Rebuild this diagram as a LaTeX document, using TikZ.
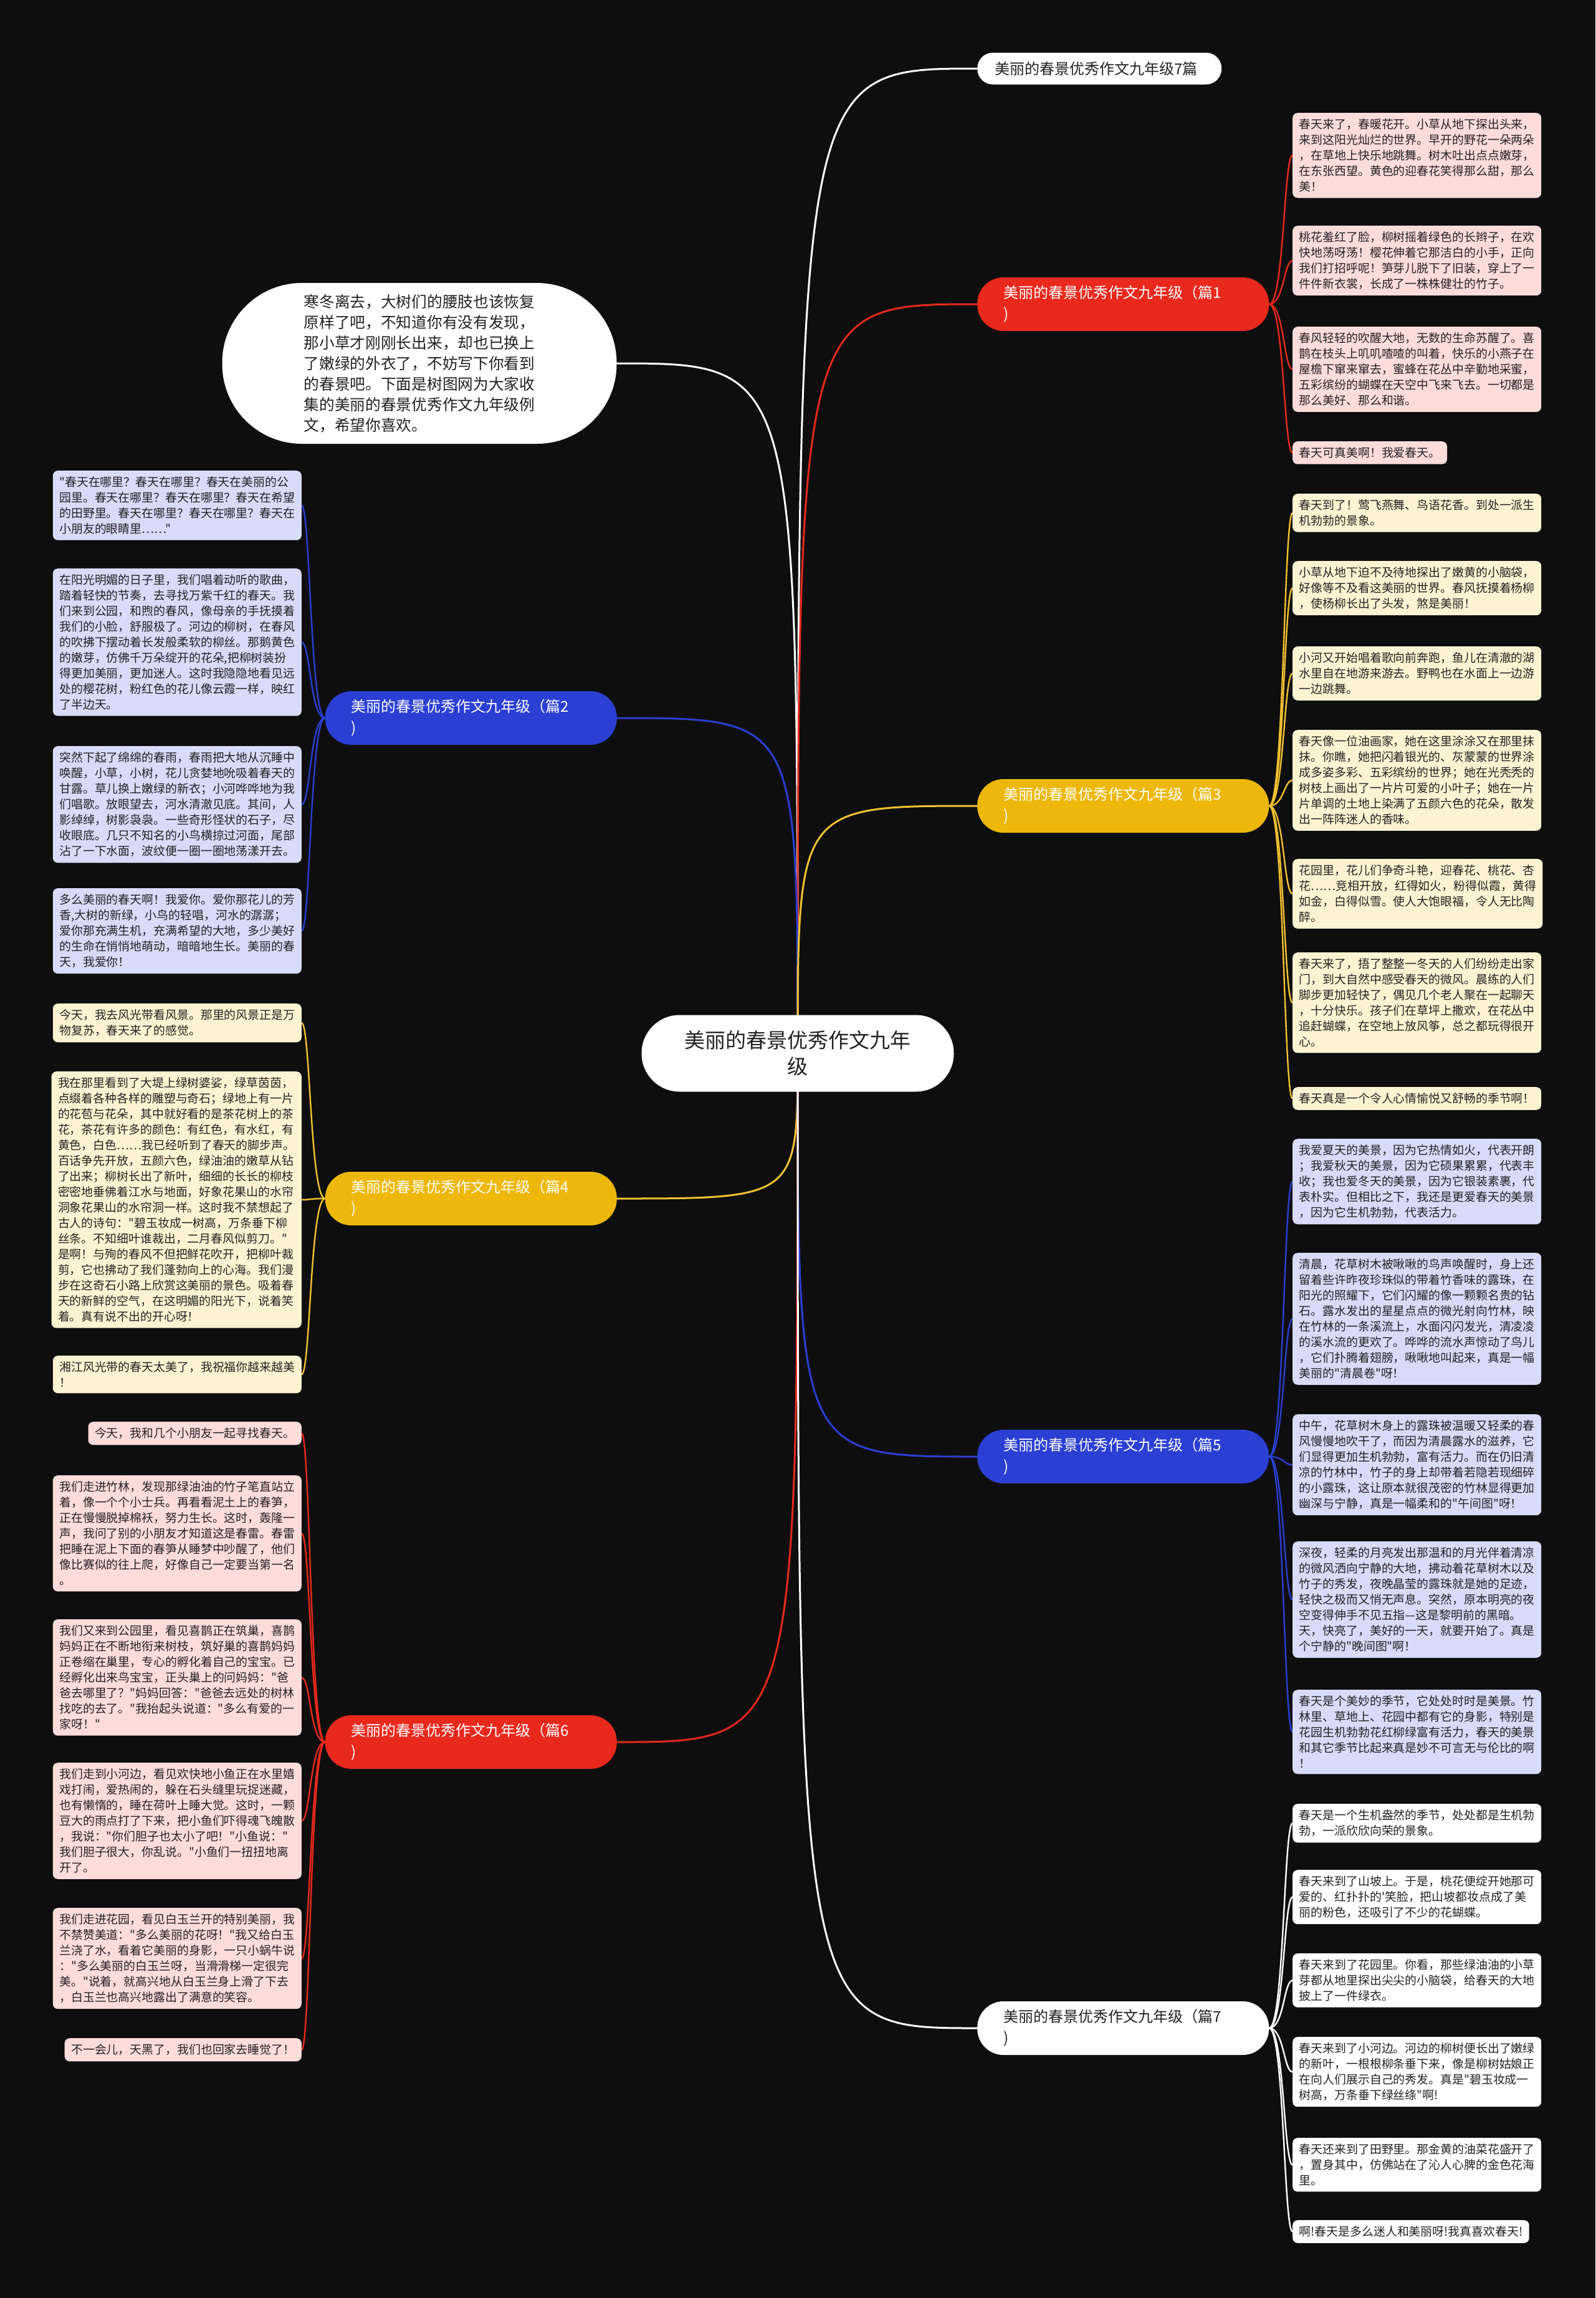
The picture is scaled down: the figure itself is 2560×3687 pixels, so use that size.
\documentclass[tikz,border=0pt]{standalone}
\usepackage{fontspec}
\usepackage{xcolor}
\usetikzlibrary{backgrounds}
\newfontfamily\cjk{Noto Sans CJK SC}

\definecolor{bgc}{HTML}{0E0E0E}
\definecolor{redc}{HTML}{E8291C}
\definecolor{redleaf}{HTML}{FDDCDA}
\definecolor{yelc}{HTML}{EDB80B}
\definecolor{yelline}{HTML}{F2C232}
\definecolor{yelleaf}{HTML}{FDF3D2}
\definecolor{bluec}{HTML}{2B3FD4}
\definecolor{blueleaf}{HTML}{D8DBF9}
\definecolor{txt}{HTML}{222222}

\begin{document}
\begin{tikzpicture}[
    x=1pt, y=-1pt,
    root/.style={fill=white, rounded corners=61pt, minimum width=501pt, minimum height=123pt, align=center, text=txt, font=\cjk\fontsize{33}{42}\selectfont},
    intro/.style={fill=white, rounded corners=128pt, minimum width=633pt, minimum height=258pt, align=left, text=txt, font=\cjk\fontsize{24.7}{33}\selectfont},
    branch/.style={anchor=west, rounded corners=42pt, minimum height=86pt, text width=384pt, inner xsep=42pt, align=left, text=white, font=\cjk\fontsize{24}{34}\selectfont},
    branchL/.style={branch, anchor=east},
    leaf/.style={rounded corners=8pt, inner xsep=10.5pt, inner ysep=9.5pt, align=left, text=txt, font=\cjk\fontsize{18.9}{25}\selectfont},
    leafR/.style={leaf, anchor=north west},
    leafL/.style={leaf, anchor=north east},
    link/.style={line width=3pt},
    twig/.style={line width=2.4pt}
]
    \useasboundingbox (0,0) rectangle (2560,3687);

    % centre and intro
    \node[root] (root) at (1280,1690) {美丽的春景优秀作文九年\\级};
    \node[intro] (intro) at (673,583) {寒冬离去，大树们的腰肢也该恢复\\原样了吧，不知道你有没有发现，\\那小草才刚刚长出来，却也已换上\\了嫩绿的外衣了，不妨写下你看到\\的春景吧。下面是树图网为大家收\\集的美丽的春景优秀作文九年级例\\文，希望你喜欢。};

    % branches
    \node[branch, fill=white, text=txt, text width=336pt, inner xsep=28pt, minimum height=51pt, rounded corners=25pt] (b0) at (1568,110) {美丽的春景优秀作文九年级7篇};
    \node[branch, fill=redc] (b1) at (1568,488) {美丽的春景优秀作文九年级（篇1\\)};
    \node[branchL, fill=bluec] (b2) at (990,1152) {美丽的春景优秀作文九年级（篇2\\)};
    \node[branch, fill=yelc] (b3) at (1568,1293) {美丽的春景优秀作文九年级（篇3\\)};
    \node[branchL, fill=yelc] (b4) at (990,1923) {美丽的春景优秀作文九年级（篇4\\)};
    \node[branch, fill=bluec] (b5) at (1568,2337) {美丽的春景优秀作文九年级（篇5\\)};
    \node[branchL, fill=redc] (b6) at (990,2795) {美丽的春景优秀作文九年级（篇6\\)};
    \node[branch, fill=white, text=txt] (b7) at (1568,3254) {美丽的春景优秀作文九年级（篇7\\)};

    % 篇1
    \node[leafR, fill=redleaf] (r1a) at (2074,181) {春天来了，春暖花开。小草从地下探出头来，\\来到这阳光灿烂的世界。早开的野花一朵两朵\\，在草地上快乐地跳舞。树木吐出点点嫩芽，\\在东张西望。黄色的迎春花笑得那么甜，那么\\美！};
    \node[leafR, fill=redleaf] (r1b) at (2074,362) {桃花羞红了脸，柳树摇着绿色的长辫子，在欢\\快地荡呀荡！樱花伸着它那洁白的小手，正向\\我们打招呼呢！笋芽儿脱下了旧装，穿上了一\\件件新衣裳，长成了一株株健壮的竹子。};
    \node[leafR, fill=redleaf] (r1c) at (2074,524) {春风轻轻的吹醒大地，无数的生命苏醒了。喜\\鹊在枝头上叽叽喳喳的叫着，快乐的小燕子在\\屋檐下窜来窜去，蜜蜂在花丛中辛勤地采蜜，\\五彩缤纷的蝴蝶在天空中飞来飞去。一切都是\\那么美好、那么和谐。};
    \node[leafR, fill=redleaf] (r1d) at (2074,708) {春天可真美啊！我爱春天。};

    % 篇3
    \node[leafR, fill=yelleaf] (r3a) at (2074,792) {春天到了！莺飞燕舞、鸟语花香。到处一派生\\机勃勃的景象。};
    \node[leafR, fill=yelleaf] (r3b) at (2074,900) {小草从地下迫不及待地探出了嫩黄的小脑袋，\\好像等不及看这美丽的世界。春风抚摸着杨柳\\，使杨柳长出了头发，煞是美丽！};
    \node[leafR, fill=yelleaf] (r3c) at (2074,1037) {小河又开始唱着歌向前奔跑，鱼儿在清澈的湖\\水里自在地游来游去。野鸭也在水面上一边游\\一边跳舞。};
    \node[leafR, fill=yelleaf] (r3d) at (2074,1171) {春天像一位油画家，她在这里涂涂又在那里抹\\抹。你瞧，她把闪着银光的、灰蒙蒙的世界涂\\成多姿多彩、五彩缤纷的世界；她在光秃秃的\\树枝上画出了一片片可爱的小叶子；她在一片\\片单调的土地上染满了五颜六色的花朵，散发\\出一阵阵迷人的香味。};
    \node[leafR, fill=yelleaf] (r3e) at (2074,1378) {花园里，花儿们争奇斗艳，迎春花、桃花、杏\\花……竞相开放，红得如火，粉得似霞，黄得\\如金，白得似雪。使人大饱眼福，令人无比陶\\醉。};
    \node[leafR, fill=yelleaf] (r3f) at (2074,1528) {春天来了，捂了整整一冬天的人们纷纷走出家\\门，到大自然中感受春天的微风。晨练的人们\\脚步更加轻快了，偶见几个老人聚在一起聊天\\，十分快乐。孩子们在草坪上撒欢，在花丛中\\追赶蝴蝶，在空地上放风筝，总之都玩得很开\\心。};
    \node[leafR, fill=yelleaf] (r3g) at (2074,1744) {春天真是一个令人心情愉悦又舒畅的季节啊！};

    % 篇5
    \node[leafR, fill=blueleaf] (r5a) at (2074,1827) {我爱夏天的美景，因为它热情如火，代表开朗\\；我爱秋天的美景，因为它硕果累累，代表丰\\收；我也爱冬天的美景，因为它银装素裹，代\\表朴实。但相比之下，我还是更爱春天的美景\\，因为它生机勃勃，代表活力。};
    \node[leafR, fill=blueleaf] (r5b) at (2074,2010) {清晨，花草树木被啾啾的鸟声唤醒时，身上还\\留着些许昨夜珍珠似的带着竹香味的露珠，在\\阳光的照耀下，它们闪耀的像一颗颗名贵的钻\\石。露水发出的星星点点的微光射向竹林，映\\在竹林的一条溪流上，水面闪闪发光，清凌凌\\的溪水流的更欢了。哗哗的流水声惊动了鸟儿\\，它们扑腾着翅膀，啾啾地叫起来，真是一幅\\美丽的"清晨卷"呀！};
    \node[leafR, fill=blueleaf] (r5c) at (2074,2269) {中午，花草树木身上的露珠被温暖又轻柔的春\\风慢慢地吹干了，而因为清晨露水的滋养，它\\们显得更加生机勃勃，富有活力。而在仍旧清\\凉的竹林中，竹子的身上却带着若隐若现细碎\\的小露珠，这让原本就很茂密的竹林显得更加\\幽深与宁静，真是一幅柔和的"午间图"呀！};
    \node[leafR, fill=blueleaf] (r5d) at (2074,2473) {深夜，轻柔的月亮发出那温和的月光伴着清凉\\的微风洒向宁静的大地，拂动着花草树木以及\\竹子的秀发，夜晚晶莹的露珠就是她的足迹，\\轻快之极而又悄无声息。突然，原本明亮的夜\\空变得伸手不见五指—这是黎明前的黑暗。\\天，快亮了，美好的一天，就要开始了。真是\\个宁静的"晚间图"啊！};
    \node[leafR, fill=blueleaf] (r5e) at (2074,2711) {春天是个美妙的季节，它处处时时是美景。竹\\林里、草地上、花园中都有它的身影，特别是\\花园生机勃勃花红柳绿富有活力，春天的美景\\和其它季节比起来真是妙不可言无与伦比的啊\\！};

    % 篇7
    \node[leafR, fill=white] (r7a) at (2074,2894) {春天是一个生机盎然的季节，处处都是生机勃\\勃，一派欣欣向荣的景象。};
    \node[leafR, fill=white] (r7b) at (2074,3000) {春天来到了山坡上。于是，桃花便绽开她那可\\爱的、红扑扑的'笑脸，把山坡都妆点成了美\\丽的粉色，还吸引了不少的花蝴蝶。};
    \node[leafR, fill=white] (r7c) at (2074,3134) {春天来到了花园里。你看，那些绿油油的小草\\芽都从地里探出尖尖的小脑袋，给春天的大地\\披上了一件绿衣。};
    \node[leafR, fill=white] (r7d) at (2074,3268) {春天来到了小河边。河边的柳树便长出了嫩绿\\的新叶，一根根柳条垂下来，像是柳树姑娘正\\在向人们展示自己的秀发。真是"碧玉妆成一\\树高，万条垂下绿丝绦"啊!};
    \node[leafR, fill=white] (r7e) at (2074,3430) {春天还来到了田野里。那金黄的油菜花盛开了\\，置身其中，仿佛站在了沁人心脾的金色花海\\里。};
    \node[leafR, fill=white] (r7f) at (2074,3562) {啊!春天是多么迷人和美丽呀!我真喜欢春天!};

    % 篇2
    \node[leafL, fill=blueleaf] (l2a) at (484,755) {"春天在哪里？春天在哪里？春天在美丽的公\\园里。春天在哪里？春天在哪里？春天在希望\\的田野里。春天在哪里？春天在哪里？春天在\\小朋友的眼睛里……"};
    \node[leafL, fill=blueleaf] (l2b) at (484,912) {在阳光明媚的日子里，我们唱着动听的歌曲，\\踏着轻快的节奏，去寻找万紫千红的春天。我\\们来到公园，和煦的春风，像母亲的手抚摸着\\我们的小脸，舒服极了。河边的柳树，在春风\\的吹拂下摆动着长发般柔软的柳丝。那鹅黄色\\的嫩芽，仿佛千万朵绽开的花朵,把柳树装扮\\得更加美丽，更加迷人。这时我隐隐地看见远\\处的樱花树，粉红色的花儿像云霞一样，映红\\了半边天。};
    \node[leafL, fill=blueleaf] (l2c) at (484,1197) {突然下起了绵绵的春雨，春雨把大地从沉睡中\\唤醒，小草，小树，花儿贪婪地吮吸着春天的\\甘露。草儿换上嫩绿的新衣；小河哗哗地为我\\们唱歌。放眼望去，河水清澈见底。其间，人\\影绰绰，树影袅袅。一些奇形怪状的石子，尽\\收眼底。几只不知名的小鸟横掠过河面，尾部\\沾了一下水面，波纹便一圈一圈地荡漾开去。};
    \node[leafL, fill=blueleaf] (l2d) at (484,1425) {多么美丽的春天啊！我爱你。爱你那花儿的芳\\香,大树的新绿，小鸟的轻唱，河水的潺潺；\\爱你那充满生机，充满希望的大地，多少美好\\的生命在悄悄地萌动，暗暗地生长。美丽的春\\天，我爱你！};

    % 篇4
    \node[leafL, fill=yelleaf] (l4a) at (484,1610) {今天，我去风光带看风景。那里的风景正是万\\物复苏，春天来了的感觉。};
    \node[leafL, fill=yelleaf] (l4b) at (484,1719) {我在那里看到了大堤上绿树婆娑，绿草茵茵，\\点缀着各种各样的雕塑与奇石；绿地上有一片\\的花苞与花朵，其中就好看的是茶花树上的茶\\花，茶花有许多的颜色：有红色，有水红，有\\黄色，白色……我已经听到了春天的脚步声。\\百话争先开放，五颜六色，绿油油的嫩草从钻\\了出来；柳树长出了新叶，细细的长长的柳枝\\密密地垂佛着江水与地面，好象花果山的水帘\\洞象花果山的水帘洞一样。这时我不禁想起了\\古人的诗句："碧玉妆成一树高，万条垂下柳\\丝条。不知细叶谁裁出，二月春风似剪刀。"\\是啊！与殉的春风不但把鲜花吹开，把柳叶裁\\剪，它也拂动了我们蓬勃向上的心海。我们漫\\步在这奇石小路上欣赏这美丽的景色。吸着春\\天的新鲜的空气，在这明媚的阳光下，说着笑\\着。真有说不出的开心呀！};
    \node[leafL, fill=yelleaf] (l4c) at (484,2175) {湘江风光带的春天太美了，我祝福你越来越美\\！};

    % 篇6
    \node[leafL, fill=redleaf] (l6a) at (484,2281) {今天，我和几个小朋友一起寻找春天。};
    \node[leafL, fill=redleaf] (l6b) at (484,2367) {我们走进竹林，发现那绿油油的竹子笔直站立\\着，像一个个小士兵。再看看泥土上的春笋，\\正在慢慢脱掉棉袄，努力生长。这时，轰隆一\\声，我问了别的小朋友才知道这是春雷。春雷\\把睡在泥上下面的春笋从睡梦中吵醒了，他们\\像比赛似的往上爬，好像自己一定要当第一名\\。};
    \node[leafL, fill=redleaf] (l6c) at (484,2598) {我们又来到公园里，看见喜鹊正在筑巢，喜鹊\\妈妈正在不断地衔来树枝，筑好巢的喜鹊妈妈\\正卷缩在巢里，专心的孵化着自己的宝宝。已\\经孵化出来鸟宝宝，正头巢上的问妈妈："爸\\爸去哪里了？"妈妈回答："爸爸去远处的树林\\找吃的去了。"我抬起头说道："多么有爱的一\\家呀！"};
    \node[leafL, fill=redleaf] (l6d) at (484,2828) {我们走到小河边，看见欢快地小鱼正在水里嬉\\戏打闹，爱热闹的，躲在石头缝里玩捉迷藏，\\也有懒惰的，睡在荷叶上睡大觉。这时，一颗\\豆大的雨点打了下来，把小鱼们吓得魂飞魄散\\，我说："你们胆子也太小了吧！"小鱼说："\\我们胆子很大，你乱说。"小鱼们一扭扭地离\\开了。};
    \node[leafL, fill=redleaf] (l6e) at (484,3061) {我们走进花园，看见白玉兰开的特别美丽，我\\不禁赞美道："多么美丽的花呀！"我又给白玉\\兰浇了水，看着它美丽的身影，一只小蜗牛说\\："多么美丽的白玉兰呀，当滑滑梯一定很完\\美。"说着，就高兴地从白玉兰身上滑了下去\\，白玉兰也高兴地露出了满意的笑容。};
    \node[leafL, fill=redleaf] (l6f) at (484,3270) {不一会儿，天黑了，我们也回家去睡觉了！};

    \begin{scope}[on background layer]
        \fill[bgc] (0,0) rectangle (2560,3687);

        % centre to branches
        \draw[link, white] (root.center) .. controls (root.center |- intro.east) .. (intro.east);
        \draw[link, white] (root.center) .. controls (root.center |- b0.west) .. (b0.west);
        \draw[link, redc] (root.center) .. controls (root.center |- b1.west) .. (b1.west);
        \draw[link, bluec] (root.center) .. controls (root.center |- b2.east) .. (b2.east);
        \draw[link, yelline] (root.center) .. controls (root.center |- b3.west) .. (b3.west);
        \draw[link, yelline] (root.center) .. controls (root.center |- b4.east) .. (b4.east);
        \draw[link, bluec] (root.center) .. controls (root.center |- b5.west) .. (b5.west);
        \draw[link, redc] (root.center) .. controls (root.center |- b6.east) .. (b6.east);
        \draw[link, white] (root.center) .. controls (root.center |- b7.west) .. (b7.west);

        % right leaves
        \draw[twig, redc] (b1.east) .. controls +(24,0) and +(-14,0) .. (r1a.west);
        \draw[twig, redc] (b1.east) .. controls +(24,0) and +(-14,0) .. (r1b.west);
        \draw[twig, redc] (b1.east) .. controls +(24,0) and +(-14,0) .. (r1c.west);
        \draw[twig, redc] (b1.east) .. controls +(24,0) and +(-14,0) .. (r1d.west);
        \draw[twig, yelline] (b3.east) .. controls +(24,0) and +(-14,0) .. (r3a.west);
        \draw[twig, yelline] (b3.east) .. controls +(24,0) and +(-14,0) .. (r3b.west);
        \draw[twig, yelline] (b3.east) .. controls +(24,0) and +(-14,0) .. (r3c.west);
        \draw[twig, yelline] (b3.east) .. controls +(24,0) and +(-14,0) .. (r3d.west);
        \draw[twig, yelline] (b3.east) .. controls +(24,0) and +(-14,0) .. (r3e.west);
        \draw[twig, yelline] (b3.east) .. controls +(24,0) and +(-14,0) .. (r3f.west);
        \draw[twig, yelline] (b3.east) .. controls +(24,0) and +(-14,0) .. (r3g.west);
        \draw[twig, bluec] (b5.east) .. controls +(24,0) and +(-14,0) .. (r5a.west);
        \draw[twig, bluec] (b5.east) .. controls +(24,0) and +(-14,0) .. (r5b.west);
        \draw[twig, bluec] (b5.east) .. controls +(24,0) and +(-14,0) .. (r5c.west);
        \draw[twig, bluec] (b5.east) .. controls +(24,0) and +(-14,0) .. (r5d.west);
        \draw[twig, bluec] (b5.east) .. controls +(24,0) and +(-14,0) .. (r5e.west);
        \draw[twig, white] (b7.east) .. controls +(24,0) and +(-14,0) .. (r7a.west);
        \draw[twig, white] (b7.east) .. controls +(24,0) and +(-14,0) .. (r7b.west);
        \draw[twig, white] (b7.east) .. controls +(24,0) and +(-14,0) .. (r7c.west);
        \draw[twig, white] (b7.east) .. controls +(24,0) and +(-14,0) .. (r7d.west);
        \draw[twig, white] (b7.east) .. controls +(24,0) and +(-14,0) .. (r7e.west);
        \draw[twig, white] (b7.east) .. controls +(24,0) and +(-14,0) .. (r7f.west);

        % left leaves
        \draw[twig, bluec] (b2.west) .. controls +(-24,0) and +(14,0) .. (l2a.east);
        \draw[twig, bluec] (b2.west) .. controls +(-24,0) and +(14,0) .. (l2b.east);
        \draw[twig, bluec] (b2.west) .. controls +(-24,0) and +(14,0) .. (l2c.east);
        \draw[twig, bluec] (b2.west) .. controls +(-24,0) and +(14,0) .. (l2d.east);
        \draw[twig, yelline] (b4.west) .. controls +(-24,0) and +(14,0) .. (l4a.east);
        \draw[twig, yelline] (b4.west) .. controls +(-24,0) and +(14,0) .. (l4b.east);
        \draw[twig, yelline] (b4.west) .. controls +(-24,0) and +(14,0) .. (l4c.east);
        \draw[twig, redc] (b6.west) .. controls +(-24,0) and +(14,0) .. (l6a.east);
        \draw[twig, redc] (b6.west) .. controls +(-24,0) and +(14,0) .. (l6b.east);
        \draw[twig, redc] (b6.west) .. controls +(-24,0) and +(14,0) .. (l6c.east);
        \draw[twig, redc] (b6.west) .. controls +(-24,0) and +(14,0) .. (l6d.east);
        \draw[twig, redc] (b6.west) .. controls +(-24,0) and +(14,0) .. (l6e.east);
        \draw[twig, redc] (b6.west) .. controls +(-24,0) and +(14,0) .. (l6f.east);
    \end{scope}
\end{tikzpicture}
\end{document}
